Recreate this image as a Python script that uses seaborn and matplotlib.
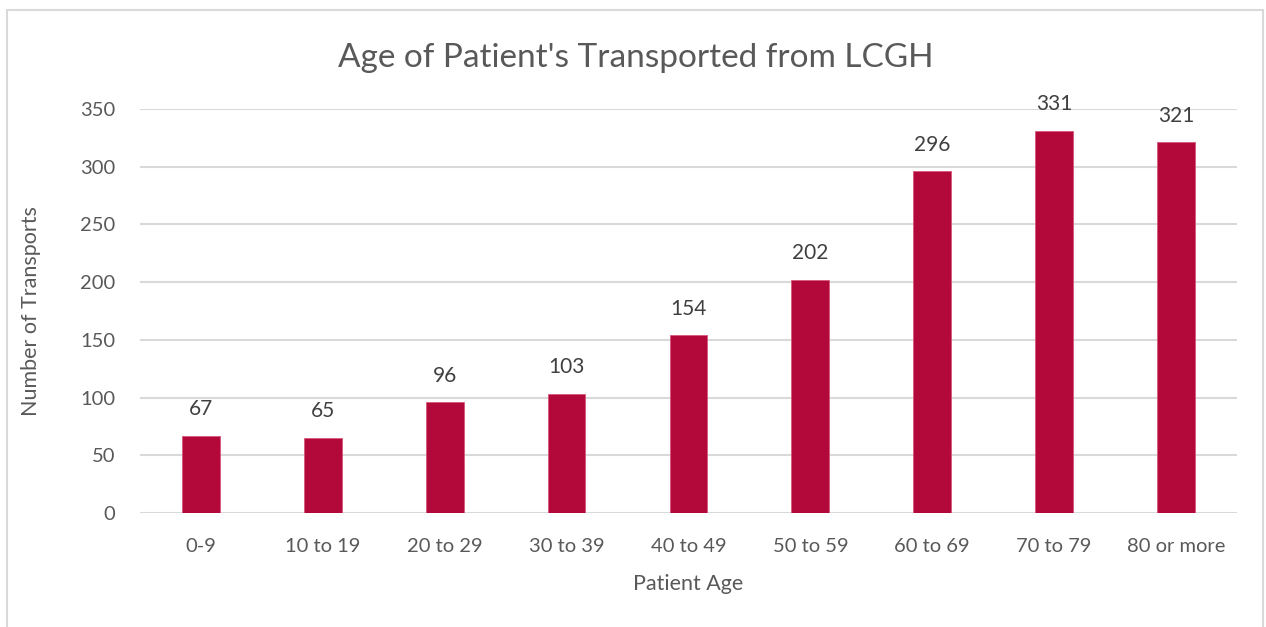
import matplotlib
matplotlib.use("Agg")
import matplotlib.pyplot as plt
from matplotlib.patches import Rectangle
import seaborn as sns
import pandas as pd

# Chart data
age_groups = ["0-9", "10 to 19", "20 to 29", "30 to 39", "40 to 49",
              "50 to 59", "60 to 69", "70 to 79", "80 or more"]
transports = [67, 65, 96, 103, 154, 202, 296, 331, 321]

BAR_COLOR = "#B3093A"
TEXT_COLOR = "#595959"
GRID_COLOR = "#D9D9D9"

sns.set_theme(style="white")
plt.rcParams["font.family"] = ["Lato", "DejaVu Sans"]

df = pd.DataFrame({"age": age_groups, "count": transports})

fig = plt.figure(figsize=(12.66, 6.27), dpi=100)
ax = fig.add_axes([0.1106, 0.1818, 0.8664, 0.6444])

sns.barplot(data=df, x="age", y="count", color=BAR_COLOR, width=0.31,
            saturation=1, ax=ax, edgecolor="#D9577A", linewidth=0.6)

ax.set_ylim(0, 350)
ax.set_yticks(range(0, 351, 50))
ax.yaxis.grid(True, color=GRID_COLOR, linewidth=1.5)
ax.set_axisbelow(True)
for s in ax.spines.values():
    s.set_visible(False)
ax.tick_params(axis="both", length=0, labelsize=14.5, colors=TEXT_COLOR)
ax.tick_params(axis="x", pad=18)
ax.tick_params(axis="y", pad=18)

for c in ax.containers:
    ax.bar_label(c, labels=[str(v) for v in transports], padding=12,
                 fontsize=15, color="#404040")

ax.set_xlabel("Patient Age", fontsize=15.5, color=TEXT_COLOR, labelpad=14)
ax.set_ylabel("Number of Transports", fontsize=15.5, color=TEXT_COLOR, labelpad=28)
fig.text(0.502, 0.908, "Age of Patient's Transported from LCGH", ha="center",
         va="center", fontsize=24, color=TEXT_COLOR)

# outer chart border
fig.patches.append(Rectangle((7 / 1266, -0.05), 1256 / 1266, 1 - 10 / 627 + 0.05,
                             transform=fig.transFigure, fill=False,
                             edgecolor="#D9D9D9", linewidth=1.5))

fig.savefig("out.png", dpi=100)
